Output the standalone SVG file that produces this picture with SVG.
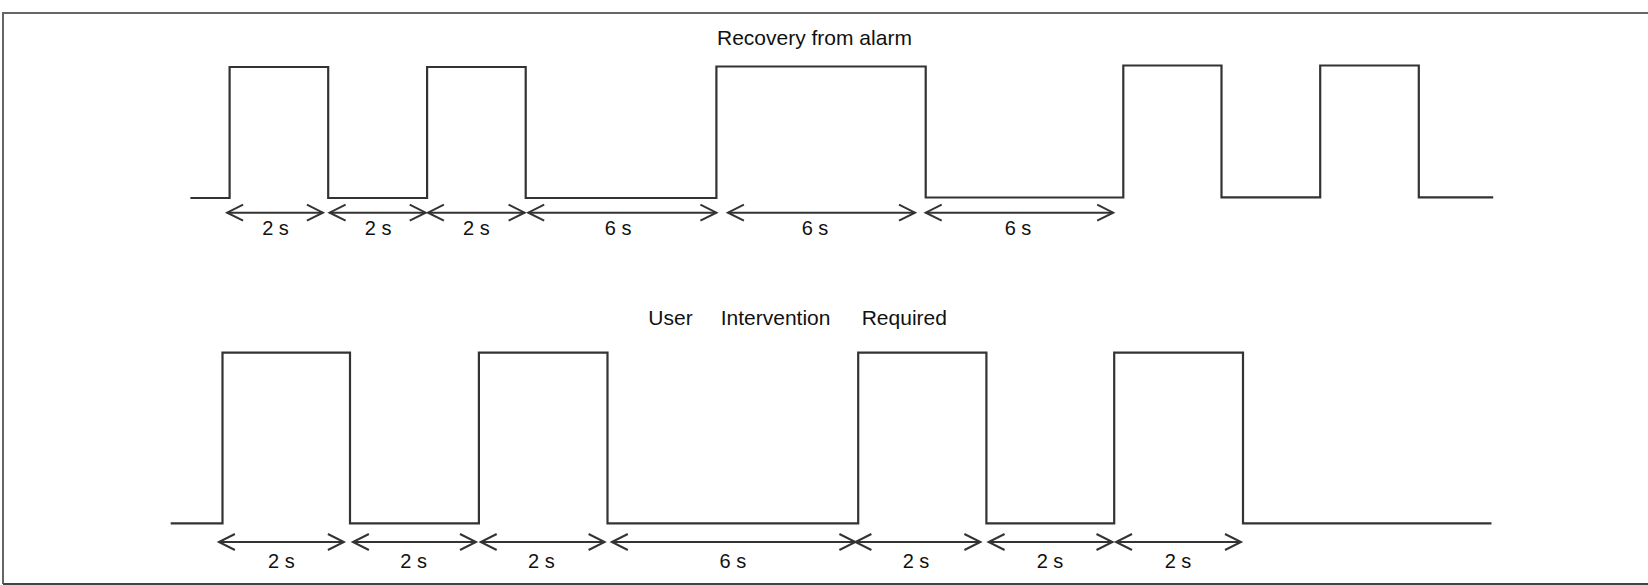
<svg xmlns="http://www.w3.org/2000/svg" width="1648" height="585" viewBox="0 0 1648 585">
  <style>
    .wave { fill: none; stroke: #333; stroke-width: 2.2; stroke-linejoin: miter; }
    .dim { fill: none; stroke: #333; stroke-width: 2; marker-start: url(#chev); marker-end: url(#chev); }
    .lbl { font-family: "Liberation Sans", Arial, sans-serif; font-size: 20px; fill: #111; text-anchor: middle; }
    .title { font-family: "Liberation Sans", Arial, sans-serif; font-size: 21px; fill: #111; }
  </style>
  <defs>
    <marker id="chev" markerUnits="userSpaceOnUse" markerWidth="20" markerHeight="20" refX="16" refY="8.5" orient="auto-start-reverse" overflow="visible">
      <path d="M0,0.5 L16,8.5 L0,16.5" fill="none" stroke="#333" stroke-width="2"/>
    </marker>
  </defs>
  <rect x="0" y="0" width="1648" height="585" fill="#fff"/>
  <g id="frame">
    <path d="M3,584 V13 H1650" fill="none" stroke="#666" stroke-width="2"/>
    <path d="M3,584 H1650" fill="none" stroke="#444" stroke-width="2"/>
  </g>

  <g id="recovery">
    <text class="title" x="717" y="45">Recovery from alarm</text>
    <path class="wave" d="M190.4,198 H229.6 V67 H328.2 V198 H427.1 V67 H525.7 V198 H716.4 V66.5 H925.7 V197.5 H1123.3 V65.5 H1221.5 V197.3 H1320.2 V65.5 H1418.8 V197.3 H1493.2"/>
  </g>

  <g id="user-intervention">
    <text class="title" y="325"><tspan x="648.3">User</tspan><tspan x="720.7">Intervention</tspan><tspan x="861.7">Required</tspan></text>
    <path class="wave" d="M170.7,523.3 H222.5 V352.7 H350 V523.3 H478.9 V352.7 H607.5 V523.3 H858.2 V352.7 H986.4 V523.3 H1114.2 V352.7 H1243 V523.3 H1491.5"/>
  </g>

  <g id="connectors">
    <line class="dim" x1="227.1" y1="212.7" x2="322.9" y2="212.7"/>
    <line class="dim" x1="329.6" y1="212.7" x2="425.7" y2="212.7"/>
    <line class="dim" x1="427.9" y1="212.7" x2="524.6" y2="212.7"/>
    <line class="dim" x1="528.2" y1="212.7" x2="716.4" y2="212.7"/>
    <line class="dim" x1="727.9" y1="212.7" x2="915" y2="212.7"/>
    <line class="dim" x1="925.7" y1="212.7" x2="1113.2" y2="212.7"/>

    <line class="dim" x1="218.9" y1="542" x2="343.9" y2="542"/>
    <line class="dim" x1="352.9" y1="542" x2="476" y2="542"/>
    <line class="dim" x1="480.7" y1="542" x2="604.6" y2="542"/>
    <line class="dim" x1="611.8" y1="542" x2="855.4" y2="542"/>
    <line class="dim" x1="855.4" y1="542" x2="980.4" y2="542"/>
    <line class="dim" x1="988.6" y1="542" x2="1112.5" y2="542"/>
    <line class="dim" x1="1116" y1="542" x2="1241" y2="542"/>
  </g>

  <g id="labels">
    <text class="lbl" x="275.5" y="235">2 s</text>
    <text class="lbl" x="378.2" y="235">2 s</text>
    <text class="lbl" x="476.4" y="235">2 s</text>
    <text class="lbl" x="618.2" y="235">6 s</text>
    <text class="lbl" x="815" y="235">6 s</text>
    <text class="lbl" x="1018" y="235">6 s</text>

    <text class="lbl" x="281.4" y="567.5">2 s</text>
    <text class="lbl" x="413.6" y="567.5">2 s</text>
    <text class="lbl" x="541.4" y="567.5">2 s</text>
    <text class="lbl" x="732.9" y="567.5">6 s</text>
    <text class="lbl" x="916" y="567.5">2 s</text>
    <text class="lbl" x="1050" y="567.5">2 s</text>
    <text class="lbl" x="1178" y="567.5">2 s</text>
  </g>
</svg>
